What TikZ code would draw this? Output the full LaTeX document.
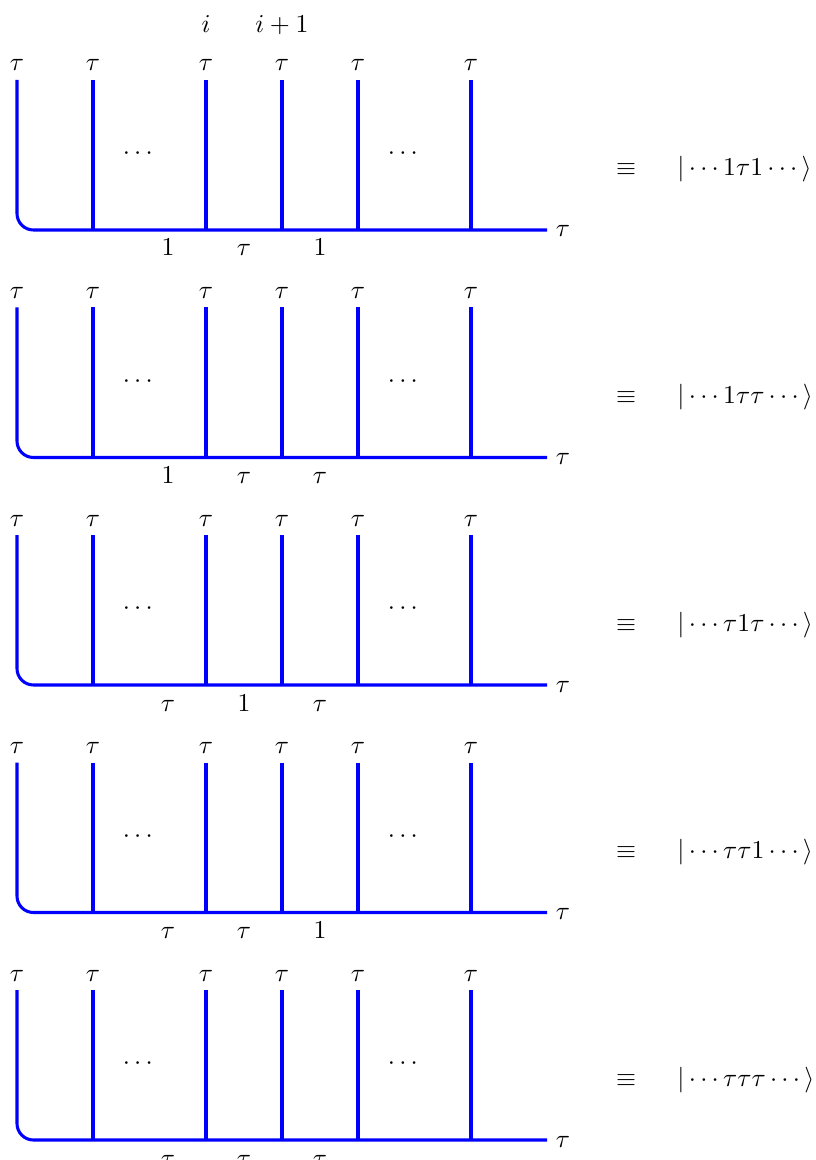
\documentclass[tikz,border=0pt]{standalone}
\usepackage{amsmath,amssymb}
\usepackage{tikz}
\usetikzlibrary{positioning}
\tikzset{
  every node/.style={font=\fontsize{10.8}{13}\selectfont},
  strand/.style={draw=blue, line width=1.3pt},
  corner/.style={strand, rounded corners=7pt},
  lbl/.style={anchor=base, inner sep=0pt},
  ket/.style={anchor=base west, inner sep=0pt},
}

\begin{document}
\begin{tikzpicture}[x=0.4255pt,y=-0.4255pt]
\useasboundingbox (0,0) rectangle (815,1160);
\node[lbl] (isite) at (206,33) {$i$};
\node[lbl] (jsite) at (282,33) {$i+1$};
% one fusion tree per basis state
\foreach \k/\a/\b/\c in {0/1/\tau/1, 1/1/\tau/\tau, 2/\tau/1/\tau, 3/\tau/\tau/1, 4/\tau/\tau/\tau}{
  \pgfmathsetmacro{\yb}{230+227.5*\k}
  \coordinate (root\k) at (547,\yb);
  \draw[corner] (17,\yb-150) -- (17,\yb) -- (root\k);
  \foreach \x in {93,206,282,358,471}
    \draw[strand] (\x,\yb-150) -- (\x,\yb);
  \foreach \x in {17,93,206,282,358,471}
    \node[lbl] (top\k-\x) at (\x,\yb-159) {$\tau$};
  \node (dotsl\k) at (140,\yb-76) {$\cdots$};
  \node (dotsr\k) at (405,\yb-76) {$\cdots$};
  \node[lbl] (ea\k) at (168,\yb+26) {$\a$};
  \node[lbl] (eb\k) at (244,\yb+26) {$\b$};
  \node[lbl] (ec\k) at (320,\yb+26) {$\c$};
  \node[lbl] (out\k) at (563,\yb+7) {$\tau$};
  \node[lbl] (eq\k) at (626,\yb-54) {$\equiv$};
  \node[ket] (state\k) at (677,\yb-54) {$|\cdots\a\b\c\cdots\rangle$};
}
\end{tikzpicture}
\end{document}
